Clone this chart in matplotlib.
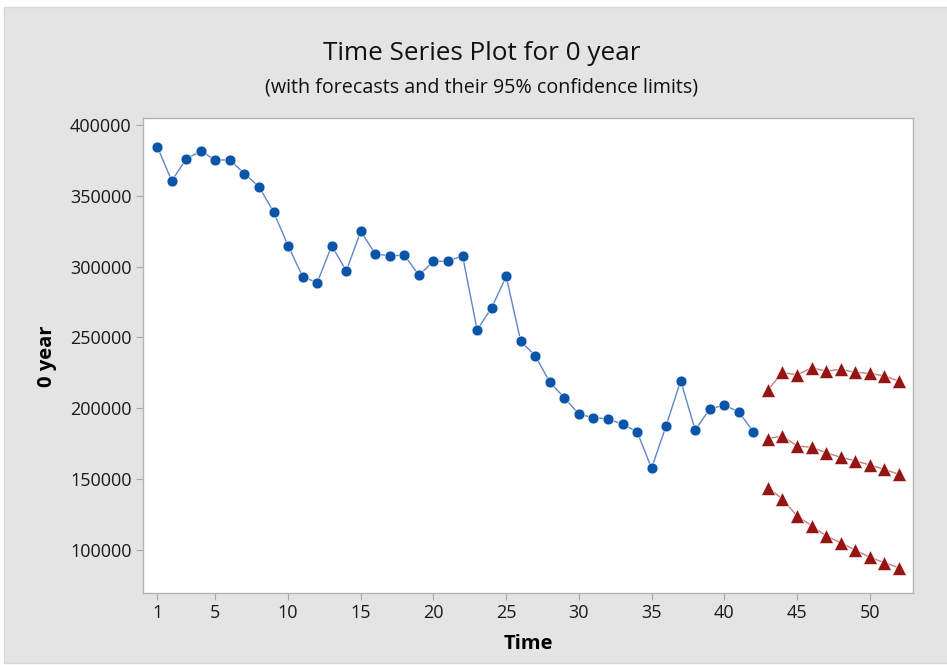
import numpy as np
import matplotlib
matplotlib.use('Agg')
from matplotlib import pyplot as plt
from matplotlib.patches import Rectangle

plt.rcParams['font.family'] = ['Open Sans', 'DejaVu Sans']

# observed series (time 1..42)
time_obs = list(range(1, 43))
values_obs = [
    384700, 360500, 376200, 381400, 375300, 375300, 365600, 356400, 338600, 314800,
    292900, 288700, 314800, 296900, 325000, 308900, 307700, 308000, 293900, 303800,
    303800, 307700, 255300, 271000, 293100, 247300, 237100, 218400, 207500, 195800,
    193400, 192500, 188700, 183500, 157700, 187700, 219500, 184700, 199500, 202300,
    197400, 183500,
]

# forecasts (time 43..52) with 95% limits
time_fc = list(range(43, 53))
upper_fc = [212900, 225400, 223500, 228500, 226300, 227500, 225400, 224700, 222800, 219300]
forecast = [178600, 180500, 173400, 172500, 168700, 165400, 163000, 160000, 157000, 153400]
lower_fc = [144000, 136000, 124000, 117200, 109900, 105200, 100000, 94900, 91100, 87500]

x_ticks = [1, 5, 10, 15, 20, 25, 30, 35, 40, 45, 50]
y_ticks = [100000, 150000, 200000, 250000, 300000, 350000, 400000]

blue = '#0A55A8'
red = '#951414'

fig = plt.figure(figsize=(9.47, 6.65), dpi=100, facecolor='white')
# gray panel behind everything
fig.patches.append(Rectangle((4 / 947, 2 / 665), 1, 1 - 9 / 665, transform=fig.transFigure,
                             facecolor='#e4e4e4', edgecolor='#d8d8d8', lw=1, zorder=-10))

ax = fig.add_axes([0.1507, 0.1078, 0.8137, 0.7143])
ax.set_facecolor('white')

ax.plot(time_obs, values_obs, color='#5f86c8', lw=1.0, zorder=2)
ax.plot(time_obs, values_obs, 'o', color=blue, markersize=7.8, markeredgecolor='white',
        markeredgewidth=0.4, zorder=3)
for series in (upper_fc, forecast, lower_fc):
    ax.plot(time_fc, series, color='#c48080', lw=1.0, zorder=2)
    ax.plot(time_fc, series, '^', color=red, markersize=10.5, markeredgecolor='white',
            markeredgewidth=0.4, zorder=3)

ax.set_xlim(0, 53)
ax.set_ylim(69400, 404700)
ax.set_xticks(x_ticks)
ax.set_yticks(y_ticks)
ax.set_yticklabels([str(v) for v in y_ticks])
ax.tick_params(direction='out', length=5, width=0.8, color='#a8a8a8', labelsize=13,
               labelcolor='#1a1a1a', pad=3)
for s in ax.spines.values():
    s.set_color('#b4b4b4')
    s.set_linewidth(1.0)

ax.set_xlabel('Time', fontsize=14.5, fontweight='bold', labelpad=8)
ax.set_ylabel('0 year', fontsize=14.5, fontweight='bold', labelpad=9)

fig.text(0.509, 0.92, 'Time Series Plot for 0 year', ha='center', va='center', fontsize=18.8,
         color='#111111')
fig.text(0.509, 0.868, '(with forecasts and their 95% confidence limits)', ha='center',
         va='center', fontsize=14.2, color='#111111')

fig.savefig('out.png', dpi=100, facecolor=fig.get_facecolor())
